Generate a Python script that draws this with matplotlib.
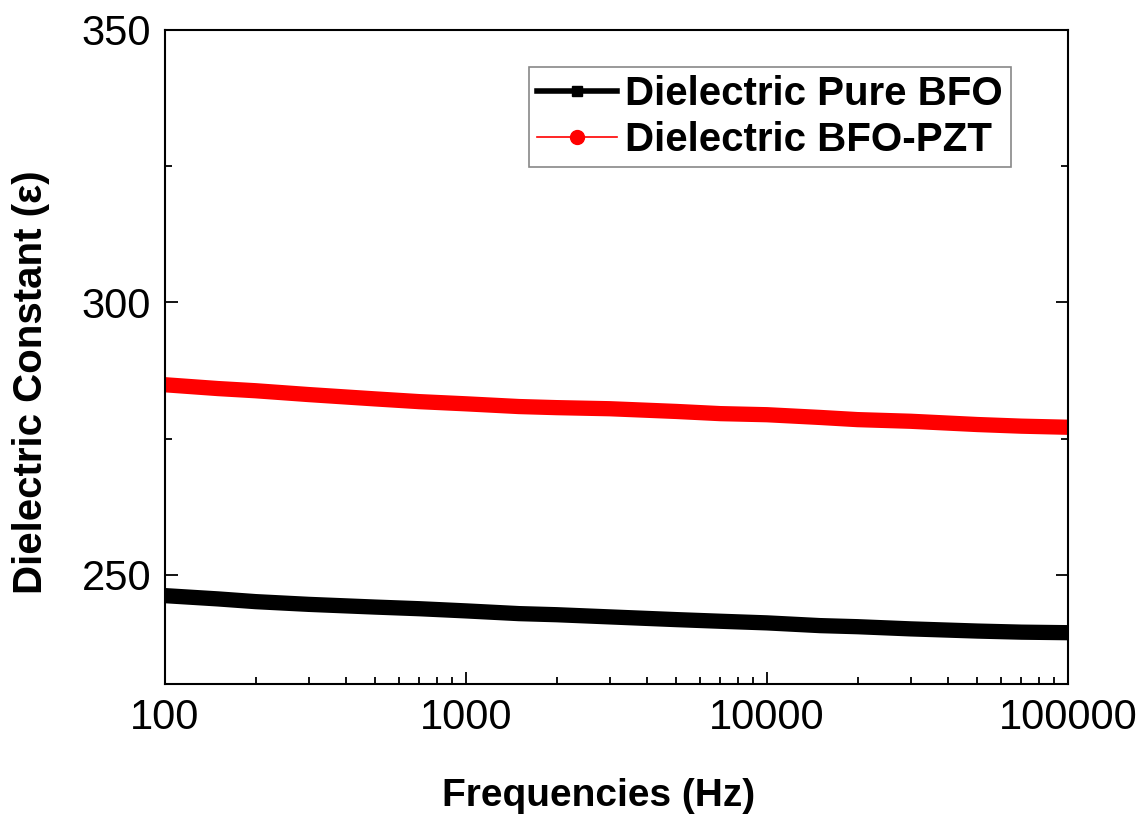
import matplotlib
matplotlib.use("Agg")
import matplotlib.pyplot as plt
from matplotlib.lines import Line2D
from matplotlib.ticker import LogLocator, FixedLocator, NullFormatter

# data
freq = [100, 150, 200, 300, 500, 700, 1000, 1500, 2000, 3000, 5000, 7000,
        10000, 15000, 20000, 30000, 50000, 70000, 100000]
eps_bfo = [246.2, 245.6, 245.1, 244.6, 244.1, 243.8, 243.4, 242.9, 242.7,
           242.3, 241.8, 241.5, 241.2, 240.7, 240.5, 240.1, 239.7, 239.5,
           239.4]
eps_bfo_pzt = [284.9, 284.2, 283.8, 283.1, 282.3, 281.8, 281.4, 280.9, 280.7,
               280.5, 280.0, 279.6, 279.4, 278.9, 278.5, 278.2, 277.6, 277.3,
               277.1]
labels = ['Dielectric Pure BFO', 'Dielectric BFO-PZT']
y_ticks = [250, 300, 350]
y_minor = [275, 325]

plt.rcParams['font.family'] = ['Liberation Sans', 'DejaVu Sans']

fig = plt.figure(figsize=(11.46, 8.24), dpi=100)
ax = fig.add_axes([0.144, 0.170, 0.788, 0.7936])

# the measured curves are so dense that they look like thick bands
ax.plot(freq, eps_bfo, color='black', lw=11, solid_capstyle='butt')
ax.plot(freq, eps_bfo_pzt, color='red', lw=11, solid_capstyle='butt')

ax.set_xscale('log')
ax.set_xlim(100, 100000)
ax.set_ylim(230, 350)
ax.set_xticks([100, 1000, 10000, 100000])
ax.set_xticklabels(['100', '1000', '10000', '100000'])
ax.xaxis.set_minor_locator(LogLocator(base=10, subs=range(2, 10)))
ax.xaxis.set_minor_formatter(NullFormatter())
ax.set_yticks(y_ticks)
ax.yaxis.set_minor_locator(FixedLocator(y_minor))

ax.tick_params(which='both', direction='in', top=False, right=True,
               labelsize=30, width=1.3, pad=10)
ax.tick_params(which='major', length=9)
ax.tick_params(which='minor', length=5)
for s in ax.spines.values():
    s.set_linewidth(1.5)

ax.set_xlabel('Frequencies (Hz)', fontsize=28, fontweight='bold')
ax.xaxis.set_label_coords(0.48, -0.144)
ax.set_ylabel('Dielectric Constant (ε)', fontsize=29, fontweight='bold')
ax.yaxis.set_label_coords(-0.127, 0.462)

handles = [
    Line2D([], [], color='black', lw=4, marker='s', ms=7),
    Line2D([], [], color='red', lw=1.2, marker='o', ms=10),
]
leg = ax.legend(handles, labels, loc='upper right',
                bbox_to_anchor=(0.937, 0.944),
                prop={'weight': 'bold', 'size': 29}, fancybox=False,
                framealpha=1, edgecolor='#888888', handlelength=2.0,
                handletextpad=0.2, borderpad=0.2, labelspacing=0.2,
                borderaxespad=0)
leg.get_frame().set_linewidth(1.2)

fig.savefig('out.png', dpi=100)
